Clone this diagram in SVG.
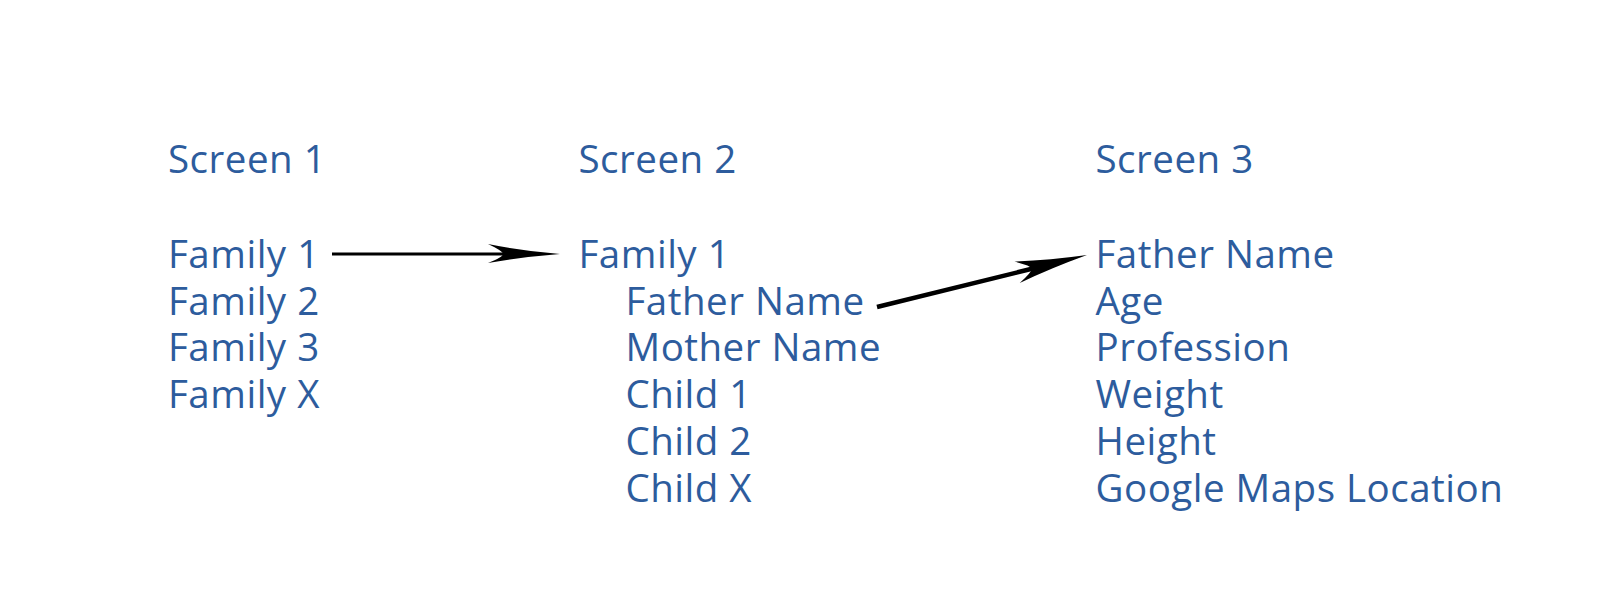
<svg xmlns="http://www.w3.org/2000/svg" width="1600" height="616" viewBox="0 0 1600 616">
<style>
  text { font-family: "Open Sans", "Noto Sans", sans-serif; font-size: 38.5px; letter-spacing: 0.5px; fill: #2d5c9d; }
  .conn { stroke: #000; fill: none; }
</style>
<rect width="1600" height="616" fill="#fff"/>
<g id="screen1">
  <text x="168" y="173">Screen 1</text>
  <text x="168" y="268">Family 1</text>
  <text x="168" y="314.7">Family 2</text>
  <text x="168" y="361.4">Family 3</text>
  <text x="168" y="408.1">Family X</text>
</g>
<g id="screen2">
  <text x="578.5" y="173">Screen 2</text>
  <text x="578.5" y="268">Family 1</text>
  <text x="625.5" y="314.7">Father Name</text>
  <text x="625.5" y="361.4">Mother Name</text>
  <text x="625.5" y="408.1">Child 1</text>
  <text x="625.5" y="454.8">Child 2</text>
  <text x="625.5" y="501.5">Child X</text>
</g>
<g id="screen3">
  <text x="1095.5" y="173">Screen 3</text>
  <text x="1095.5" y="268">Father Name</text>
  <text x="1095.5" y="314.7">Age</text>
  <text x="1095.5" y="361.4">Profession</text>
  <text x="1095.5" y="408.1">Weight</text>
  <text x="1095.5" y="454.8">Height</text>
  <text x="1095.5" y="501.5">Google Maps Location</text>
</g>
<g id="connectors">
  <path class="conn" d="M332,254 L508,254" stroke-width="3"/>
  <path d="M560,254 Q522,251 488,244 Q503,251 503,254 Q503,257 488,263 Q522,257 560,254 Z" fill="#000"/>
  <path class="conn" d="M877,307 L1035,268" stroke-width="4.5"/>
  <g transform="translate(1087,255) rotate(-13.9)">
    <path d="M0,0 Q-38,-4 -72,-11 Q-57,-3 -57,0 Q-57,3 -72,11 Q-38,4 0,0 Z" fill="#000"/>
  </g>
</g>
</svg>
